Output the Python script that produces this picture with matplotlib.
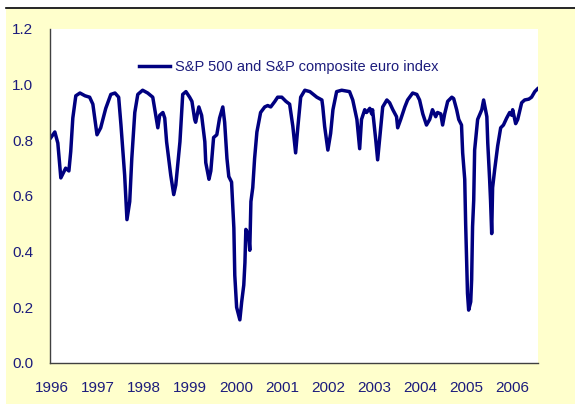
import matplotlib
matplotlib.use("Agg")
import matplotlib.pyplot as plt
from matplotlib.patches import Rectangle
from matplotlib.lines import Line2D

# decimal year and correlation
years = [
    1995.98, 1996.065, 1996.13, 1996.195, 1996.24, 1996.30, 1996.37, 1996.41, 1996.455, 1996.52,
    1996.61, 1996.72, 1996.82, 1996.89, 1996.98, 1997.06, 1997.17, 1997.28, 1997.37, 1997.45,
    1997.50, 1997.58, 1997.63, 1997.69, 1997.735, 1997.80, 1997.865, 1997.97, 1998.08, 1998.19,
    1998.23, 1998.30, 1998.34, 1998.41, 1998.45, 1998.49, 1998.58, 1998.645, 1998.69, 1998.78,
    1998.84, 1998.91, 1998.99, 1999.04, 1999.10, 1999.12, 1999.19, 1999.25, 1999.32, 1999.34,
    1999.41, 1999.45, 1999.51, 1999.58, 1999.64, 1999.71, 1999.75, 1999.80, 1999.84, 1999.90,
    1999.95, 1999.97, 2000.01, 2000.08, 2000.12, 2000.165, 2000.19, 2000.21, 2000.27, 2000.295,
    2000.32, 2000.36, 2000.40, 2000.45, 2000.49, 2000.53, 2000.62, 2000.685, 2000.75, 2000.84,
    2000.90, 2000.99, 2001.08, 2001.16, 2001.23, 2001.29, 2001.34, 2001.40, 2001.49, 2001.60,
    2001.75, 2001.86, 2001.88, 2001.92, 2001.99, 2002.05, 2002.10, 2002.18, 2002.29, 2002.46,
    2002.53, 2002.62, 2002.68, 2002.72, 2002.79, 2002.83, 2002.90, 2002.94, 2002.96, 2003.03,
    2003.07, 2003.11, 2003.18, 2003.27, 2003.33, 2003.40, 2003.48, 2003.505, 2003.57, 2003.66,
    2003.72, 2003.83, 2003.92, 2003.98, 2004.05, 2004.13, 2004.20, 2004.26, 2004.33, 2004.37,
    2004.44, 2004.48, 2004.525, 2004.59, 2004.68, 2004.72, 2004.785, 2004.83, 2004.89, 2004.915,
    2004.96, 2004.98, 2005.02, 2005.045, 2005.09, 2005.11, 2005.13, 2005.155, 2005.175, 2005.24,
    2005.33, 2005.37, 2005.44, 2005.46, 2005.50, 2005.52, 2005.545, 2005.565, 2005.61, 2005.675,
    2005.74, 2005.80, 2005.87, 2005.935, 2005.98, 2006.00, 2006.065, 2006.11, 2006.195, 2006.26,
    2006.35, 2006.41, 2006.48, 2006.54,
]
corr = [
    0.81, 0.83, 0.79, 0.665, 0.68, 0.70, 0.69, 0.76, 0.88, 0.96,
    0.97, 0.96, 0.955, 0.93, 0.82, 0.845, 0.915, 0.965, 0.97, 0.955,
    0.855, 0.675, 0.515, 0.58, 0.735, 0.90, 0.965, 0.98, 0.97, 0.955,
    0.915, 0.845, 0.89, 0.90, 0.88, 0.795, 0.675, 0.605, 0.64, 0.795,
    0.965, 0.975, 0.955, 0.94, 0.875, 0.865, 0.92, 0.89, 0.795, 0.72,
    0.66, 0.69, 0.81, 0.82, 0.88, 0.92, 0.865, 0.735, 0.67, 0.65,
    0.485, 0.315, 0.20, 0.155, 0.22, 0.28, 0.36, 0.48, 0.46, 0.405,
    0.58, 0.63, 0.735, 0.83, 0.865, 0.90, 0.92, 0.925, 0.92, 0.94,
    0.955, 0.955, 0.94, 0.93, 0.85, 0.755, 0.85, 0.955, 0.98, 0.975,
    0.955, 0.945, 0.92, 0.85, 0.765, 0.825, 0.91, 0.975, 0.98, 0.975,
    0.945, 0.875, 0.77, 0.875, 0.91, 0.90, 0.915, 0.895, 0.91, 0.80,
    0.73, 0.80, 0.92, 0.945, 0.935, 0.91, 0.885, 0.845, 0.875, 0.92,
    0.945, 0.97, 0.965, 0.945, 0.895, 0.855, 0.875, 0.91, 0.885, 0.90,
    0.895, 0.855, 0.895, 0.94, 0.955, 0.95, 0.91, 0.875, 0.855, 0.755,
    0.66, 0.50, 0.25, 0.19, 0.22, 0.30, 0.49, 0.585, 0.765, 0.875,
    0.91, 0.945, 0.885, 0.79, 0.66, 0.585, 0.465, 0.63, 0.695, 0.78,
    0.845, 0.855, 0.88, 0.90, 0.89, 0.91, 0.86, 0.875, 0.935, 0.945,
    0.948, 0.955, 0.975, 0.985,
]
year_ticks = list(range(1996, 2007))
label = "S&P 500 and S&P composite euro index"

NAVY = "#000080"
TXT = "#1c1c7c"
W, H = 575, 405

plt.rcParams["font.family"] = ["Liberation Sans", "DejaVu Sans"]
fig = plt.figure(figsize=(W / 100, H / 100), dpi=100)
fig.patch.set_facecolor("white")

# yellow chart area + black rule on top
fig.patches.append(Rectangle((6 / W, 1 / H), 1 - 6 / W, (H - 10) / H,
                             transform=fig.transFigure, facecolor="#ffffcc",
                             edgecolor="none", zorder=-10))
fig.lines.append(Line2D([6 / W, 1], [(H - 8) / H] * 2, transform=fig.transFigure,
                        color="black", linewidth=1.2, zorder=-5))

ax = fig.add_axes([50 / W, (H - 363) / H, 488 / W, 334 / H])
ax.set_facecolor("white")
ax.plot(years, corr, color=NAVY, linewidth=2.5, label=label)

ax.set_xlim(1995.96, 2006.55)
ax.set_ylim(0, 1.2)
ax.set_yticks([0, 0.2, 0.4, 0.6, 0.8, 1.0, 1.2])
ax.set_yticklabels([f"{v:.1f}" for v in ax.get_yticks()])
ax.set_xticks(year_ticks)
ax.set_xticklabels([str(y) for y in year_ticks])
ax.tick_params(length=0, labelsize=11, labelcolor=TXT)
ax.tick_params(axis="y", pad=12)
ax.tick_params(axis="x", pad=13)
for s in ["top", "right"]:
    ax.spines[s].set_visible(False)
for s in ["left", "bottom"]:
    ax.spines[s].set_color("#404040")
    ax.spines[s].set_linewidth(1.0)

ax.legend(loc="center left", bbox_to_anchor=((139 - 50) / 488, (363 - 67) / 334),
          frameon=False, fontsize=10.5, labelcolor=TXT, handlelength=2.1,
          handletextpad=0.35, borderpad=0, borderaxespad=0)

fig.savefig("out.png", dpi=100)
